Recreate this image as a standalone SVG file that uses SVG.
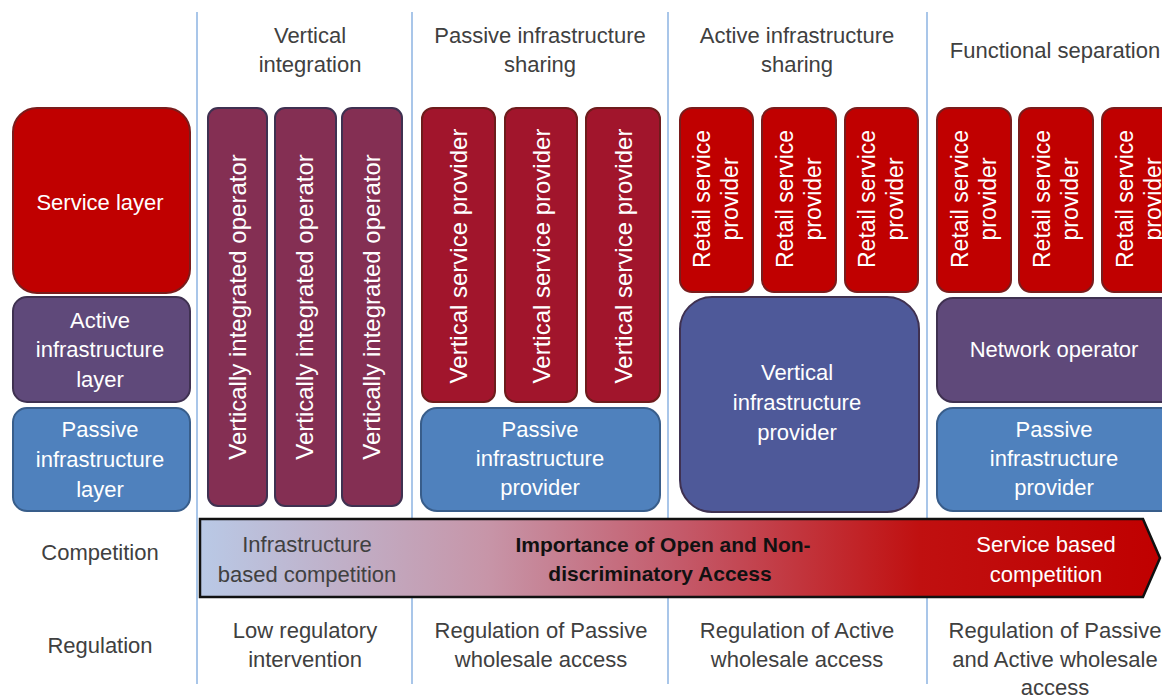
<svg xmlns="http://www.w3.org/2000/svg" width="1162" height="698" viewBox="0 0 1162 698">
<defs>
<style>
text{font-family:"Liberation Sans",Arial,sans-serif;font-size:22px;text-anchor:middle;}
.hdr{fill:#404040;}
.lbl{fill:#404040;}
.wt{fill:#ffffff;}
.red{fill:#c00000;stroke:#7a1c1c;stroke-width:2;}
.vio{fill:#842f53;stroke:#3f3151;stroke-width:2;}
.vsp{fill:#a1152c;stroke:#6e1c1c;stroke-width:2;}
.pur{fill:#5f497a;stroke:#3f3151;stroke-width:2;}
.blu{fill:#4f81bd;stroke:#385d8a;stroke-width:2;}
.vip{fill:#4e5999;stroke:#3f3151;stroke-width:2;}
.sep{stroke:#8db3e2;stroke-width:1.5;fill:none;}
.rot{font-size:24px;fill:#ffffff;}
.rot2{font-size:23px;fill:#ffffff;}
.bold{font-size:21px;font-weight:bold;fill:#111111;}
</style>
<linearGradient id="arrowGrad" x1="200" y1="0" x2="1160" y2="0" gradientUnits="userSpaceOnUse">
<stop offset="0" stop-color="#b9c9e6"/>
<stop offset="0.3" stop-color="#c795a8"/>
<stop offset="0.5" stop-color="#c45a6a"/>
<stop offset="0.75" stop-color="#c01010"/>
<stop offset="1" stop-color="#c00000"/>
</linearGradient>
</defs>
<rect x="0" y="0" width="1162" height="698" fill="#ffffff"/>

<g id="separators">
<line class="sep" x1="197" y1="12" x2="197" y2="684"/>
<line class="sep" x1="412" y1="12" x2="412" y2="684"/>
<line class="sep" x1="668" y1="12" x2="668" y2="684"/>
<line class="sep" x1="927" y1="12" x2="927" y2="684"/>
</g>

<g id="headers">
<text class="hdr" x="310" y="43">Vertical</text>
<text class="hdr" x="310" y="72">integration</text>
<text class="hdr" x="540" y="43">Passive infrastructure</text>
<text class="hdr" x="540" y="72">sharing</text>
<text class="hdr" x="797" y="43">Active infrastructure</text>
<text class="hdr" x="797" y="72">sharing</text>
<text class="hdr" x="1055" y="58">Functional separation</text>
</g>

<g id="service-layer">
<rect class="red" x="13" y="108" width="177" height="185" rx="24"/>
<text class="wt" x="100" y="210">Service layer</text>
</g>
<g id="active-layer">
<rect class="pur" x="13" y="297" width="177" height="105" rx="14"/>
<text class="wt" x="100" y="328">Active</text>
<text class="wt" x="100" y="357">infrastructure</text>
<text class="wt" x="100" y="387">layer</text>
</g>
<g id="passive-layer">
<rect class="blu" x="13" y="408" width="177" height="103" rx="14"/>
<text class="wt" x="100" y="437">Passive</text>
<text class="wt" x="100" y="467">infrastructure</text>
<text class="wt" x="100" y="497">layer</text>
</g>

<g id="vio-1">
<rect class="vio" x="208" y="108" width="59" height="398" rx="10"/>
<text class="rot" transform="translate(246,307) rotate(-90)">Vertically integrated operator</text>
</g>
<g id="vio-2">
<rect class="vio" x="275" y="108" width="61" height="398" rx="10"/>
<text class="rot" transform="translate(313,307) rotate(-90)">Vertically integrated operator</text>
</g>
<g id="vio-3">
<rect class="vio" x="342" y="108" width="60" height="398" rx="10"/>
<text class="rot" transform="translate(380,307) rotate(-90)">Vertically integrated operator</text>
</g>

<g id="vsp-1">
<rect class="vsp" x="422" y="108" width="73" height="294" rx="11"/>
<text class="rot" transform="translate(467,256) rotate(-90)">Vertical service provider</text>
</g>
<g id="vsp-2">
<rect class="vsp" x="505" y="108" width="72" height="294" rx="11"/>
<text class="rot" transform="translate(550,256) rotate(-90)">Vertical service provider</text>
</g>
<g id="vsp-3">
<rect class="vsp" x="586" y="108" width="74" height="294" rx="11"/>
<text class="rot" transform="translate(632,256) rotate(-90)">Vertical service provider</text>
</g>
<g id="pip-1">
<rect class="blu" x="421" y="408" width="239" height="103" rx="16"/>
<text class="wt" x="540" y="437">Passive</text>
<text class="wt" x="540" y="466">infrastructure</text>
<text class="wt" x="540" y="495">provider</text>
</g>

<g id="rsp-a1">
<rect class="red" x="680" y="108" width="73" height="184" rx="12"/>
<text class="rot2" transform="translate(716,199) rotate(-90)"><tspan x="0" y="-6">Retail service</tspan><tspan x="0" y="22">provider</tspan></text>
</g>
<g id="rsp-a2">
<rect class="red" x="762" y="108" width="74" height="184" rx="12"/>
<text class="rot2" transform="translate(799,199) rotate(-90)"><tspan x="0" y="-6">Retail service</tspan><tspan x="0" y="22">provider</tspan></text>
</g>
<g id="rsp-a3">
<rect class="red" x="845" y="108" width="73" height="184" rx="12"/>
<text class="rot2" transform="translate(881,199) rotate(-90)"><tspan x="0" y="-6">Retail service</tspan><tspan x="0" y="22">provider</tspan></text>
</g>
<g id="vip">
<rect class="vip" x="680" y="297" width="239" height="215" rx="32"/>
<text class="wt" x="797" y="380">Vertical</text>
<text class="wt" x="797" y="410">infrastructure</text>
<text class="wt" x="797" y="440">provider</text>
</g>

<g id="rsp-f1">
<rect class="red" x="937" y="108" width="74" height="184" rx="12"/>
<text class="rot2" transform="translate(974,199) rotate(-90)"><tspan x="0" y="-6">Retail service</tspan><tspan x="0" y="22">provider</tspan></text>
</g>
<g id="rsp-f2">
<rect class="red" x="1019" y="108" width="74" height="184" rx="12"/>
<text class="rot2" transform="translate(1056,199) rotate(-90)"><tspan x="0" y="-6">Retail service</tspan><tspan x="0" y="22">provider</tspan></text>
</g>
<g id="rsp-f3">
<rect class="red" x="1102" y="108" width="74" height="184" rx="12"/>
<text class="rot2" transform="translate(1139,199) rotate(-90)"><tspan x="0" y="-6">Retail service</tspan><tspan x="0" y="22">provider</tspan></text>
</g>
<g id="network-operator">
<rect class="pur" x="937" y="298" width="240" height="104" rx="16"/>
<text class="wt" x="1054" y="357">Network operator</text>
</g>
<g id="pip-2">
<rect class="blu" x="937" y="408" width="240" height="103" rx="16"/>
<text class="wt" x="1054" y="437">Passive</text>
<text class="wt" x="1054" y="466">infrastructure</text>
<text class="wt" x="1054" y="495">provider</text>
</g>

<g id="competition-arrow">
<polygon points="200,519 1143,519 1160,558 1143,597 200,597" fill="url(#arrowGrad)" stroke="#111111" stroke-width="2.5" stroke-linejoin="miter"/>
<text x="307" y="552" fill="#404040">Infrastructure</text>
<text x="307" y="582" fill="#404040">based competition</text>
<text class="bold" x="663" y="552">Importance of Open and Non-</text>
<text class="bold" x="660" y="581">discriminatory Access</text>
<text class="wt" x="1046" y="552">Service based</text>
<text class="wt" x="1046" y="582">competition</text>
</g>

<g id="row-labels">
<text class="lbl" x="100" y="560">Competition</text>
<text class="lbl" x="100" y="653">Regulation</text>
</g>

<g id="regulation">
<text class="lbl" x="305" y="638">Low regulatory</text>
<text class="lbl" x="305" y="667">intervention</text>
<text class="lbl" x="541" y="638">Regulation of Passive</text>
<text class="lbl" x="541" y="667">wholesale  access</text>
<text class="lbl" x="797" y="638">Regulation of Active</text>
<text class="lbl" x="797" y="667">wholesale access</text>
<text class="lbl" x="1055" y="638">Regulation of Passive</text>
<text class="lbl" x="1055" y="667">and Active wholesale</text>
<text class="lbl" x="1055" y="695">access</text>
</g>
</svg>
